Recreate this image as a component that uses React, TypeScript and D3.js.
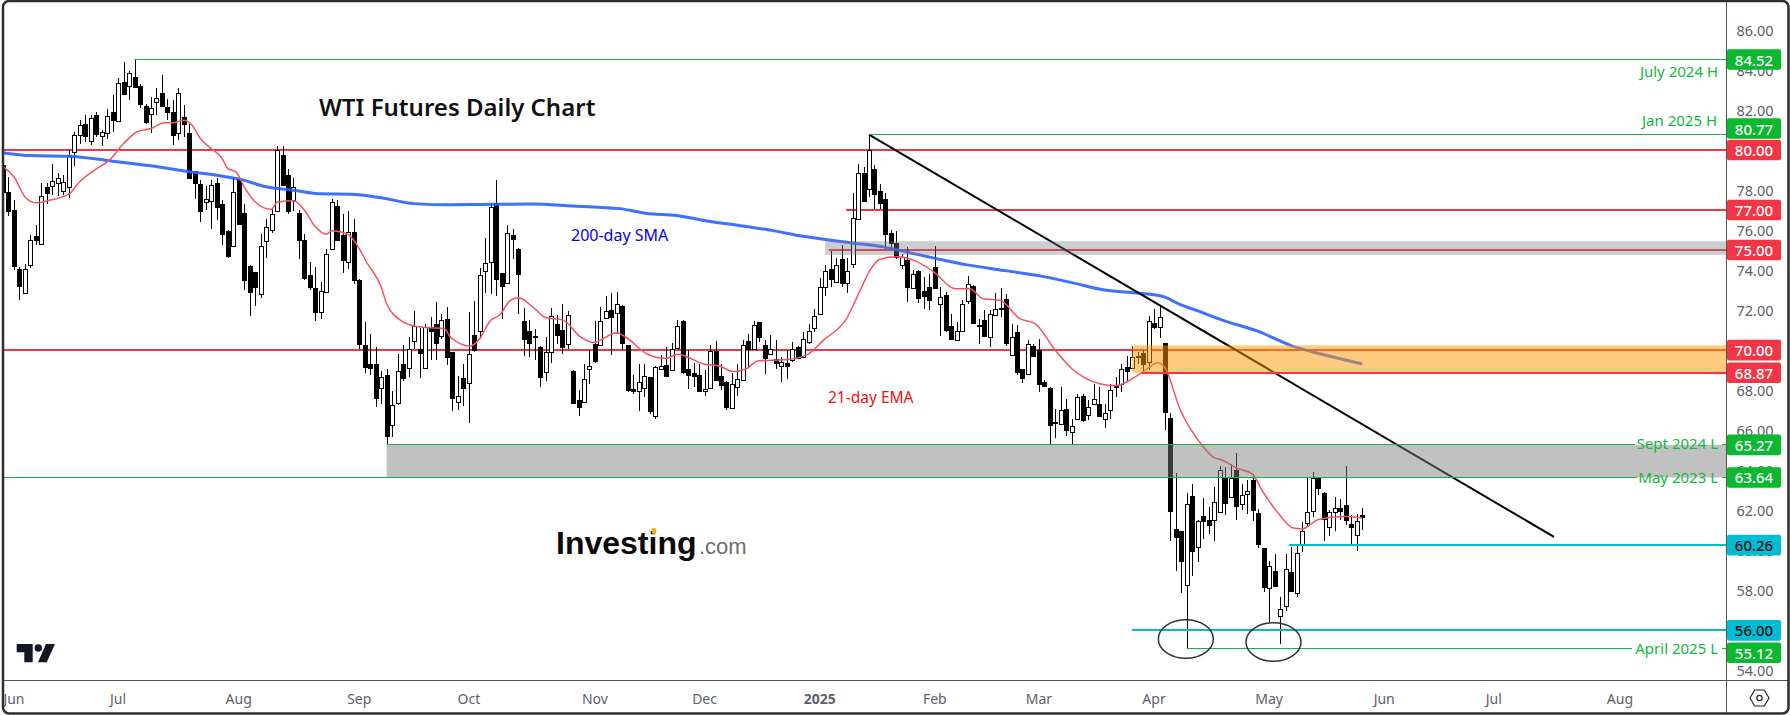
import * as d3 from 'd3'

const width = 1790
const height = 715
const font = '"Noto Sans", sans-serif'

// daily candles, 10 per row
const opens = [
  79.27, 77.92, 76.99, 74.04, 72.87, 74.27, 75.69, 75.31, 78.14, 78.22,
  78.37, 77.97, 78.14, 79.92, 80.77, 81.29, 80.47, 81.74, 80.72, 80.87,
  81.89, 81.47, 83.42, 83.22, 83.64, 83.19, 82.22, 81.82, 82.42, 82.87,
  82.17, 81.92, 80.87, 81.67, 80.87, 78.97, 78.29, 77.42, 77.47, 78.34,
  77.29, 75.94, 75.21, 78.57, 76.87, 74.22, 73.89, 72.82, 75.46, 76.01,
  76.97, 79.74, 78.74, 77.51, 76.84, 75.49, 73.74, 73.12, 71.92, 72.91,
  75.07, 77.19, 75.74, 74.42, 75.89, 73.52, 70.27, 69.29, 69.32, 68.12,
  68.77, 66.27, 67.36, 69.29, 69.11, 70.47, 70.07, 69.11, 71.16, 71.29,
  70.72, 71.54, 69.92, 67.43, 68.63, 68.38, 70.78, 70.97, 73.93, 74.38,
  77.33, 73.83, 73.37, 75.75, 75.05, 71.48, 70.98, 70.7, 70.18, 68.93,
  69.93, 71.33, 71.03, 70.33, 68.98, 67.53, 67.43, 69.08, 70.33, 70.28,
  71.63, 72.03, 71.88, 72.2, 70.25, 68.08, 67.97, 68.13, 68.65, 66.72,
  69.07, 69.28, 69.02, 70.13, 71.45, 69.08, 68.88, 68.78, 67.98, 68.13,
  69.95, 68.73, 68.43, 67.13, 68.18, 68.5, 70.45, 70.07, 71.43, 70.25,
  69.83, 69.58, 69.22, 69.38, 69.5, 70.18, 69.67, 70.42, 71.12, 71.83,
  73.13, 74.03, 73.42, 74.55, 73.33, 74.28, 76.53, 78.83, 78.03, 79.07,
  77.94, 77.57, 75.87, 75.37, 74.26, 74.52, 73.12, 73.94, 72.97, 73.16,
  74.16, 72.31, 72.74, 71.19, 70.52, 70.96, 72.47, 73.19, 71.27, 71.52,
  70.67, 71.77, 72.06, 72.57, 69.77, 70.92, 69.07, 68.82, 70.19, 69.99,
  68.42, 68.09, 66.39, 66.31, 67.07, 65.92, 66.57, 67.69, 66.77, 67.32,
  67.29, 66.57, 67.02, 68.24, 68.32, 69.14, 69.11, 69.65, 69.87, 69.42,
  71.37, 71.16, 70.37, 66.62, 61.07, 60.99, 58.26, 62.69, 60.16, 61.69,
  61.52, 61.51, 61.91, 63.62, 62.66, 63.99, 62.31, 62.81, 63.49, 61.84,
  60.14, 58.11, 58.99, 56.71, 57.21, 58.94, 57.86, 60.27, 61.37, 61.96,
  63.61, 62.86, 61.17, 61.92, 62.12, 62.24, 61.29, 60.77, 61.74,
]
const highs = [
  79.32, 78.66, 77.52, 74.16, 74.32, 75.77, 76.24, 78.36, 78.36, 79.32,
  78.86, 78.74, 79.99, 80.91, 81.52, 81.74, 81.77, 81.91, 80.99, 82.07,
  82.74, 83.62, 84.39, 83.96, 84.52, 83.32, 82.29, 82.66, 83.12, 83.74,
  82.57, 82.49, 83.12, 82.27, 81.32, 78.97, 78.49, 78.19, 78.49, 78.61,
  77.49, 75.99, 78.66, 78.66, 77.29, 74.24, 73.91, 75.82, 76.57, 77.04,
  80.19, 80.19, 79.07, 78.61, 76.99, 75.82, 74.41, 74.16, 73.41, 75.07,
  77.57, 77.49, 76.82, 76.96, 76.57, 73.57, 71.41, 70.82, 70.16, 68.94,
  69.07, 67.94, 69.82, 70.24, 70.66, 71.94, 71.12, 71.32, 71.66, 72.41,
  71.82, 72.16, 69.92, 68.7, 69.33, 71.92, 72.47, 74.08, 75.58, 77.37,
  78.5, 73.83, 76.25, 76.05, 75.08, 72.13, 71.5, 71.08, 70.22, 70.67,
  72.13, 71.75, 72.33, 71.95, 69.0, 68.0, 69.33, 70.0, 71.47, 72.17,
  72.7, 72.83, 72.88, 72.25, 70.25, 68.75, 69.33, 69.33, 68.67, 69.2,
  69.75, 70.17, 70.37, 71.5, 71.5, 70.0, 69.38, 69.33, 69.0, 70.25,
  70.47, 69.33, 68.47, 68.87, 69.33, 70.53, 70.83, 71.45, 71.43, 70.53,
  70.78, 70.53, 69.67, 70.0, 70.42, 70.2, 70.92, 71.33, 72.08, 73.58,
  74.25, 74.97, 74.58, 75.25, 74.58, 77.87, 79.28, 79.17, 80.77, 79.24,
  78.32, 77.86, 75.99, 75.96, 74.82, 75.16, 73.99, 74.02, 73.66, 73.82,
  75.19, 73.16, 72.91, 71.82, 71.41, 72.49, 73.71, 73.24, 71.57, 72.02,
  71.99, 72.86, 73.12, 72.79, 71.32, 71.24, 69.07, 70.52, 70.32, 70.57,
  68.52, 68.16, 67.07, 68.16, 67.57, 66.57, 67.82, 67.79, 67.52, 68.32,
  68.16, 67.32, 68.32, 68.66, 69.32, 69.69, 70.21, 69.91, 69.99, 71.69,
  72.07, 72.16, 70.37, 66.86, 63.87, 60.99, 62.87, 63.32, 61.49, 62.62,
  62.16, 63.16, 64.19, 64.16, 64.29, 64.86, 63.32, 63.52, 63.82, 62.07,
  60.14, 59.49, 59.82, 57.69, 59.82, 60.16, 60.24, 61.41, 63.62, 63.91,
  63.66, 62.91, 61.99, 62.66, 62.57, 64.19, 61.74, 61.82, 62.12,
]
const lows = [
  77.49, 76.69, 73.99, 72.52, 72.86, 74.11, 75.24, 75.27, 77.29, 77.74,
  77.69, 77.74, 77.62, 79.21, 80.32, 80.41, 80.24, 80.66, 80.19, 80.57,
  80.91, 81.41, 82.74, 82.49, 83.12, 82.12, 81.32, 80.86, 81.74, 82.16,
  81.49, 80.26, 80.52, 80.66, 78.57, 77.56, 76.41, 76.99, 76.07, 76.49,
  75.24, 74.61, 75.19, 76.24, 72.99, 71.72, 72.19, 72.61, 74.62, 75.87,
  76.96, 78.19, 76.82, 76.94, 74.56, 73.49, 72.99, 71.46, 71.57, 72.86,
  75.02, 75.46, 73.86, 74.07, 73.32, 70.07, 68.87, 68.74, 67.16, 67.32,
  65.27, 65.66, 67.24, 68.46, 68.66, 70.07, 68.61, 69.07, 69.49, 69.51,
  70.57, 69.24, 66.97, 67.0, 67.2, 66.37, 69.92, 70.58, 72.83, 72.8,
  72.72, 71.58, 73.3, 74.53, 71.8, 69.7, 69.67, 69.5, 68.17, 68.47,
  69.38, 70.33, 69.83, 70.08, 67.37, 66.72, 67.42, 68.33, 69.38, 70.25,
  71.58, 69.78, 70.83, 70.03, 67.92, 67.83, 66.97, 67.67, 66.83, 66.57,
  69.0, 68.67, 68.97, 70.08, 68.83, 68.05, 68.17, 67.92, 67.7, 68.08,
  68.5, 68.0, 67.03, 67.08, 67.72, 68.45, 69.17, 70.0, 70.42, 68.8,
  69.8, 69.08, 68.42, 68.58, 69.42, 69.57, 69.63, 70.33, 70.92, 71.8,
  72.72, 73.17, 73.33, 73.17, 72.87, 74.08, 76.5, 77.42, 77.67, 77.07,
  77.04, 75.07, 75.04, 74.57, 74.07, 72.41, 73.07, 72.36, 72.07, 71.99,
  73.07, 70.71, 70.91, 70.49, 70.49, 70.91, 72.29, 71.32, 70.29, 70.66,
  70.16, 71.74, 71.66, 70.22, 69.74, 68.74, 68.36, 68.79, 69.66, 67.91,
  68.16, 65.27, 65.62, 66.29, 65.69, 65.32, 66.52, 66.41, 66.49, 67.29,
  66.66, 66.1, 66.57, 67.66, 67.91, 68.41, 69.07, 69.32, 68.91, 68.99,
  71.07, 70.61, 66.02, 60.46, 58.96, 57.86, 55.12, 58.74, 59.41, 60.57,
  60.82, 60.46, 61.86, 61.74, 62.61, 61.49, 61.99, 61.79, 61.46, 60.12,
  57.91, 56.41, 58.19, 55.32, 56.99, 57.96, 57.69, 59.91, 61.16, 61.66,
  62.74, 60.46, 60.74, 60.99, 61.49, 61.24, 60.29, 59.99, 61.02,
]
const closes = [
  77.91, 76.96, 74.21, 73.21, 74.07, 75.52, 75.49, 77.72, 77.86, 78.47,
  78.61, 78.41, 79.72, 80.74, 81.27, 80.71, 81.62, 80.79, 80.92, 81.72,
  81.51, 83.37, 82.79, 83.87, 83.16, 82.31, 81.39, 82.12, 82.62, 82.19,
  81.92, 80.76, 82.87, 81.31, 78.62, 78.36, 76.96, 77.57, 78.27, 77.16,
  75.81, 74.71, 77.92, 76.31, 73.52, 72.91, 73.16, 75.22, 76.17, 76.82,
  79.99, 78.27, 76.96, 78.17, 75.51, 73.61, 73.16, 71.91, 72.97, 74.82,
  77.42, 75.49, 74.51, 75.92, 73.51, 70.31, 69.16, 69.11, 67.62, 68.67,
  65.71, 67.27, 68.97, 68.61, 70.07, 71.19, 69.86, 71.16, 70.96, 70.36,
  71.52, 69.66, 67.62, 67.72, 68.12, 69.83, 70.0, 73.73, 74.37, 77.13,
  73.57, 73.22, 75.83, 75.57, 73.82, 70.57, 70.37, 70.67, 68.67, 69.92,
  71.72, 70.77, 70.17, 71.78, 67.38, 67.17, 68.58, 69.22, 69.47, 71.48,
  71.98, 71.67, 72.33, 70.37, 68.0, 67.98, 68.42, 68.7, 66.95, 69.17,
  69.22, 68.72, 70.05, 71.22, 68.92, 68.75, 68.72, 67.97, 68.08, 69.97,
  68.52, 68.27, 67.17, 68.32, 68.58, 70.28, 70.07, 71.28, 70.67, 69.6,
  70.08, 69.38, 69.42, 69.22, 70.05, 69.6, 70.58, 70.98, 71.73, 73.13,
  73.97, 73.53, 74.23, 73.37, 73.93, 76.58, 78.83, 77.47, 80.0, 77.82,
  77.36, 75.82, 75.37, 74.64, 74.64, 73.16, 73.79, 72.62, 72.72, 72.52,
  73.12, 72.66, 70.99, 70.54, 70.97, 72.32, 73.32, 71.36, 71.21, 70.71,
  71.82, 72.07, 72.12, 70.37, 70.67, 68.91, 68.62, 70.32, 69.71, 68.32,
  68.22, 66.27, 66.34, 67.02, 66.02, 66.22, 67.67, 66.51, 67.17, 67.57,
  66.71, 66.87, 68.02, 68.16, 69.07, 68.96, 69.64, 69.72, 69.32, 71.46,
  71.16, 71.66, 66.91, 61.96, 60.66, 59.49, 62.32, 59.99, 61.47, 61.46,
  61.26, 62.42, 63.99, 62.36, 63.62, 62.21, 62.77, 62.97, 61.99, 60.34,
  58.16, 59.22, 58.21, 57.07, 59.07, 57.99, 59.87, 60.97, 61.92, 63.62,
  63.11, 61.57, 61.92, 62.12, 61.96, 61.51, 61.16, 61.47, 61.64,
]

// moving averages, read at bar positions
const smaBars = [
  0, 5, 12, 20, 27, 34, 39, 43.5, 48, 53, 58, 63.5, 69, 75, 81.5, 85.8, 96.7,
  104, 112.5, 117.4, 122.9, 128.4, 134.5, 140.5, 145.4, 154.5, 160.6, 165.5,
  169.7, 175.9, 183.2, 189.2, 195.2, 200.7, 206.2, 211.5, 214.7, 218.4, 222.6,
  228.8, 235.4, 239, 243.4, 248,
]
const smaValues = [
  79.86, 79.72, 79.69, 79.44, 79.21, 78.91, 78.74, 78.52, 78.16, 77.99, 77.81,
  77.79, 77.61, 77.32, 77.26, 77.27, 77.3, 77.2, 77.07, 76.83, 76.73, 76.45,
  76.22, 75.97, 75.71, 75.37, 75.16, 74.86, 74.61, 74.26, 73.96, 73.71, 73.36,
  73.02, 72.87, 72.69, 72.29, 71.92, 71.49, 70.96, 70.19, 69.91, 69.61, 69.31,
]
const emaBars = [
  0, 2, 4, 6, 8.5, 12, 14, 16.5, 19.5, 22, 24.5, 27, 29.5, 31, 33, 34.5, 36, 38,
  40, 41, 42.5, 44, 46, 47.5, 49, 50, 53, 55, 57, 59, 60, 63, 64, 66.5, 69, 70,
  73, 75, 78, 80.5, 81.6, 85.2, 87, 88.9, 90.7, 92.5, 94, 97, 98.9, 102.2,
  105.3, 107.7, 112, 113.5, 117.7, 121, 123, 128, 130.8, 133.2, 135.7, 137.8,
  143, 146.6, 149.7, 153.9, 156.4, 158.2, 160, 163, 166.4, 169.7, 173.7, 176.4,
  178.8, 181.9, 185.5, 188.3, 192, 195, 200.1, 202.9, 208, 210.7, 212, 214.7,
  218.8, 220.8, 222.6, 225, 227.9, 229.9, 233, 235.4, 237, 240, 244.5, 248,
]
const emaValues = [
  79.16, 78.66, 77.66, 77.36, 77.49, 77.79, 78.41, 78.96, 79.52, 80.32, 80.91,
  81.07, 81.36, 81.36, 81.49, 81.24, 80.57, 80.07, 79.57, 79.07, 78.91, 78.16,
  77.41, 77.12, 77.04, 77.39, 77.46, 76.99, 76.16, 75.79, 75.96, 75.77, 75.49,
  74.32, 73.16, 72.32, 71.41, 71.21, 71.12, 71.07, 70.67, 70.2, 70.58, 71.47,
  71.78, 72.47, 72.62, 72.08, 71.63, 71.5, 70.67, 70.38, 70.87, 70.67, 69.78,
  69.58, 69.8, 69.3, 69.2, 68.93, 69.08, 69.47, 69.53, 69.75, 70.5, 71.58,
  73.0, 74.0, 74.54, 74.66, 74.46, 73.94, 73.07, 73.07, 72.57, 72.49, 71.57,
  71.32, 69.99, 69.07, 68.32, 68.22, 68.91, 69.37, 69.12, 67.07, 65.24, 64.66,
  64.49, 64.12, 63.82, 62.91, 61.74, 61.11, 61.07, 61.54, 61.69, 61.62,
]

const yTicks = [86, 84, 82, 80, 78, 76, 74, 72, 70, 68, 66, 64, 62, 60, 58, 56, 54]
const monthLabels = ['Jun', 'Jul', 'Aug', 'Sep', 'Oct', 'Nov', 'Dec', '2025', 'Feb', 'Mar', 'Apr', 'May', 'Jun', 'Jul', 'Aug']
const monthBars = [2, 21, 43, 65, 85, 108, 128, 149, 170, 189, 210, 231, 252, 272, 295]

const green = '#09b92e'
const red = '#f23645'
const cyan = '#00bcd4'

const priceTags = [84.52, 80.77, 80, 77, 75, 70, 68.87, 65.27, 63.64, 60.26, 56, 55.12]
const tagColors = [green, green, red, red, red, red, red, green, green, cyan, cyan, green]
// the tag stack pushes these two off their own line
const tagNudge: Record<number, number> = { 80.77: -6, 55.12: 4.7 }

const x = d3.scaleLinear([0, 248], [3, 1362.3])
const y = d3.scaleLinear([84.52, 55.12], [59.5, 648])

const plotRight = 1726

const avgLine = d3
  .line<[number, number]>()
  .x((d) => x(d[0]))
  .y((d) => y(d[1]))
  .curve(d3.curveMonotoneX)

function HLine({ price, from, to = plotRight, color, w = 2 }: { price: number; from: number; to?: number; color: string; w?: number }) {
  const py = Math.round(y(price) - w / 2) + w / 2
  return <line x1={from} x2={to} y1={py} y2={py} stroke={color} strokeWidth={w} />
}

function Note({ text, px, py }: { text: string; px: number; py: number }) {
  return (
    <text x={px} y={py} textAnchor="end" dominantBaseline="central" fontSize={15} fill="#12b83c" fontFamily={font}>
      {text}
    </text>
  )
}

export default function App() {
  const lineGreen = '#1fae3c'
  const barFrom = x(70)
  const julyFrom = x(24)
  const janFrom = x(158)
  const aprilFrom = x(216)
  return (
    <svg width={width} height={height} style={{ position: 'absolute', left: 0, top: 0, display: 'block', background: '#fff' }}>
      <defs>
        <clipPath id="plot">
          <rect x={4} y={2} width={plotRight - 4} height={678} />
        </clipPath>
      </defs>

      {yTicks.map((t) => (
        <text key={t} x={1755} y={y(t)} textAnchor="middle" dominantBaseline="central" fontSize={14.5} fill="#5d606b" fontFamily={font}>
          {t.toFixed(2)}
        </text>
      ))}
      {monthLabels.map((m, i) => (
        <text
          key={i}
          x={x(monthBars[i])}
          y={698}
          textAnchor="middle"
          dominantBaseline="central"
          fontSize={14}
          fontWeight={m === '2025' ? 700 : 400}
          fill="#5d606b"
          fontFamily={font}
        >
          {m}
        </text>
      ))}

      <g clipPath="url(#plot)">
        {/* red levels under the shaded zones */}
        <HLine price={80} from={4} color={red} />
        <HLine price={77} from={x(153.8)} color={red} />
        <HLine price={75} from={x(150.7)} color={red} />
        <HLine price={70} from={4} color={red} />

        {opens.map((o, i) => {
          const c = closes[i]
          const up = c >= o
          const cx = Math.round(x(i)) + 0.5
          const top = Math.round(y(Math.max(o, c))) + 0.5
          const bottom = Math.round(y(Math.min(o, c))) + 0.5
          return (
            <g key={i}>
              <line x1={cx} x2={cx} y1={Math.round(y(highs[i]))} y2={Math.round(y(lows[i]))} stroke="#000" />
              <rect x={cx - 2} y={top} width={4} height={Math.max(bottom - top, 1)} fill={up ? '#fff' : '#000'} stroke="#000" />
            </g>
          )
        })}

        <path d={avgLine(d3.zip(smaBars, smaValues) as [number, number][]) || undefined} fill="none" stroke="#2962ff" strokeWidth={3} strokeOpacity={0.9} />
        <path d={avgLine(d3.zip(emaBars, emaValues) as [number, number][]) || undefined} fill="none" stroke="#f7525f" strokeWidth={1.5} />

        <line x1={janFrom} y1={y(80.77)} x2={1554} y2={y(60.67)} stroke="#000" strokeWidth={2} />

        {/* zones */}
        <rect x={barFrom} y={y(65.27)} width={plotRight - barFrom} height={y(63.64) - y(65.27)} fill="#7d7d7d" fillOpacity={0.48} />
        <rect x={x(150)} y={y(75.44)} width={plotRight - x(150)} height={y(74.76) - y(75.44)} fill="#787b86" fillOpacity={0.38} />
        <rect x={x(206)} y={y(70.24)} width={plotRight - x(206)} height={y(68.87) - y(70.24)} fill="#ff9800" fillOpacity={0.5} />

        <HLine price={68.87} from={x(207.8)} color={red} />
        <HLine price={60.26} from={x(234.6)} color={cyan} />
        <HLine price={56} from={x(206)} color={cyan} />

        <HLine price={84.52} from={julyFrom} color={lineGreen} w={1} />
        <HLine price={80.77} from={janFrom} color={lineGreen} w={1} />
        <HLine price={65.27} from={barFrom} to={1635} color={lineGreen} w={1} />
        <HLine price={65.27} from={1722} color={lineGreen} w={1} />
        <HLine price={63.64} from={4} to={1637} color="#0fb83a" w={1} />
        <HLine price={63.64} from={1722} color="#0fb83a" w={1} />
        <HLine price={55.12} from={aprilFrom} to={1632} color="#0fb83a" w={1} />
        <HLine price={55.12} from={1722} color="#0fb83a" w={1} />

        <ellipse cx={x(215.8)} cy={y(55.57)} rx={27.5} ry={19.3} fill="none" stroke="#333" strokeWidth={1.5} />
        <ellipse cx={x(231.8)} cy={y(55.42)} rx={27.5} ry={19.3} fill="none" stroke="#333" strokeWidth={1.5} />
      </g>

      <Note text="July 2024 H" px={1718} py={70.5} />
      <Note text="Jan 2025 H" px={1717} py={120} />
      <Note text="Sept 2024 L" px={1718} py={443} />
      <Note text="May 2023 L" px={1718} py={476.5} />
      <Note text="April 2025 L" px={1718} py={647.5} />

      <text x={319} y={116} fontSize={24} fontWeight={600} fill="#111" fontFamily={font}>
        WTI Futures Daily Chart
      </text>
      <text x={571} y={241} fontSize={16} fill="#0000ee" fontFamily={font}>
        200-day SMA
      </text>
      <text x={828} y={403} fontSize={15.5} fill="#f01010" fontFamily={font}>
        21-day EMA
      </text>

      {/* investing.com mark */}
      <g fontFamily='"Liberation Sans", sans-serif'>
        <text x={556} y={554} fontSize={32} fontWeight={700} fill="#0a0a0a">
          Investing
        </text>
        <text x={699} y={554} fontSize={22} fill="#6e6e6e">
          .com
        </text>
        <ellipse cx={654} cy={531} rx={2.4} ry={3} fill="#f5a623" />
      </g>

      {/* tradingview mark */}
      <g fill="#131722">
        <path d="M16.7 644H32.7V662.3H24.3V652.3H16.7Z" />
        <circle cx={38.3} cy={648} r={3.7} />
        <path d="M46 644H55L46.7 662.3H38Z" />
      </g>

      {priceTags.map((p, i) => {
        const py = y(p) + (tagNudge[p] || 0)
        return (
          <g key={p}>
            <rect x={1727} y={py - 10.3} width={54} height={20.6} rx={2} fill={tagColors[i]} />
            <text
              x={1754}
              y={py}
              textAnchor="middle"
              dominantBaseline="central"
              fontSize={15}
              fontWeight={500}
              fill={tagColors[i] === cyan ? '#111' : '#fff'}
              fontFamily={font}
            >
              {p.toFixed(2)}
            </text>
          </g>
        )
      })}

      {/* settings icon */}
      <path d="M1750 698L1754.7 690H1764.3L1769 698L1764.3 706H1754.7Z" fill="none" stroke="#222" strokeWidth={1.2} />
      <circle cx={1759.5} cy={698} r={2.6} fill="none" stroke="#222" strokeWidth={1.2} />

      <line x1={4} x2={1788} y1={680.5} y2={680.5} stroke="#555" />
      <line x1={1726.5} x2={1726.5} y1={2} y2={713} stroke="#555" />
      <rect x={3} y={1} width={1785.5} height={712.5} rx={6} fill="none" stroke="#2e2e2e" strokeWidth={2.5} />
    </svg>
  )
}
